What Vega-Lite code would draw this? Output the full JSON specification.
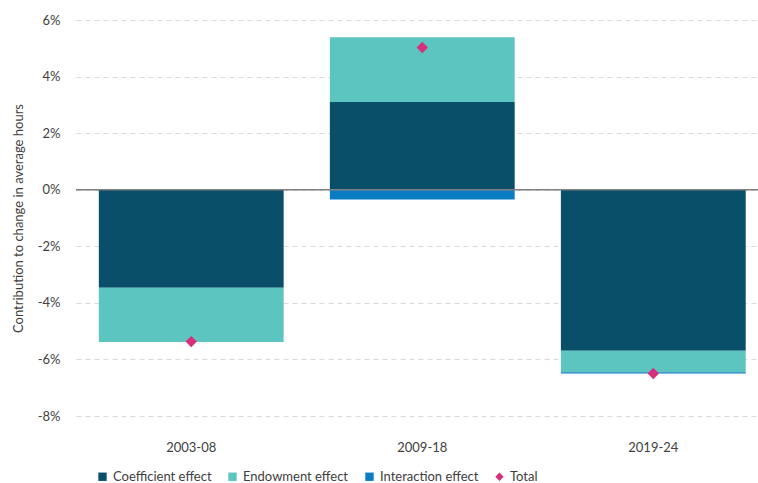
{
  "$schema": "https://vega.github.io/schema/vega-lite/v6.json",
  "width": 682,
  "height": 396,
  "autosize": {"type": "none"},
  "padding": {"left": 76, "top": 20, "right": 0, "bottom": 67},
  "background": "white",
  "config": {
    "font": "Lato",
    "view": {"stroke": null},
    "axis": {"labelFont": "Lato", "titleFont": "Lato", "labelColor": "#404040", "titleColor": "#404040"}
  },
  "datasets": {
    "bars": [
      {"period": "2003-08", "series": "Coefficient effect", "value": -3.47},
      {"period": "2003-08", "series": "Endowment effect", "value": -1.91},
      {"period": "2003-08", "series": "Interaction effect", "value": 0.0},
      {"period": "2009-18", "series": "Coefficient effect", "value": 3.1},
      {"period": "2009-18", "series": "Endowment effect", "value": 2.29},
      {"period": "2009-18", "series": "Interaction effect", "value": -0.35},
      {"period": "2019-24", "series": "Coefficient effect", "value": -5.69},
      {"period": "2019-24", "series": "Endowment effect", "value": -0.76},
      {"period": "2019-24", "series": "Interaction effect", "value": -0.05}
    ],
    "totals": [
      {"period": "2003-08", "series": "Total", "value": -5.37},
      {"period": "2009-18", "series": "Total", "value": 5.03},
      {"period": "2019-24", "series": "Total", "value": -6.5}
    ]
  },
  "layer": [
    {
      "data": {"name": "bars"},
      "mark": {"type": "bar"},
      "encoding": {
        "x": {
          "field": "period", "type": "nominal",
          "scale": {"paddingInner": 0.2, "paddingOuter": 0.076, "align": 0.65},
          "axis": {"title": null, "labelAngle": 0, "domain": false, "ticks": false, "labelFontSize": 13, "labelPadding": 25}
        },
        "y": {
          "field": "value", "type": "quantitative", "stack": "zero",
          "scale": {"domain": [-8, 6], "nice": false},
          "axis": {
            "title": "Contribution to change in average hours",
            "titleFontSize": 13, "titleFontWeight": "normal", "titlePadding": 12,
            "values": [-8, -6, -4, -2, 0, 2, 4, 6],
            "labelExpr": "datum.value + '%'",
            "labelFontSize": 13, "labelPadding": 16,
            "domain": false, "ticks": false,
            "gridColor": "#d9d9d9", "gridDash": [5, 4], "gridWidth": 1
          }
        },
        "color": {
          "field": "series", "type": "nominal",
          "scale": {
            "domain": ["Coefficient effect", "Endowment effect", "Interaction effect", "Total"],
            "range": ["#0a4f6a", "#5dc5bf", "#0a7cc4", "#d6307c"]
          },
          "legend": {
            "title": null, "orient": "none", "legendX": 20, "legendY": 450, "direction": "horizontal",
            "labelFontSize": 13, "labelColor": "#404040", "symbolSize": 70,
            "columnPadding": 14, "symbolStrokeWidth": 0
          }
        },
        "order": {"field": "series", "sort": "ascending"}
      }
    },
    {
      "data": {"values": [{"z": 0}]},
      "mark": {"type": "rule", "color": "#808080", "strokeWidth": 1.5},
      "encoding": {"y": {"field": "z", "type": "quantitative"}}
    },
    {
      "data": {"name": "totals"},
      "mark": {"type": "point", "filled": true, "size": 130, "opacity": 1},
      "encoding": {
        "x": {"field": "period", "type": "nominal"},
        "y": {"field": "value", "type": "quantitative"},
        "color": {"field": "series", "type": "nominal"},
        "shape": {
          "field": "series", "type": "nominal",
          "scale": {
            "domain": ["Coefficient effect", "Endowment effect", "Interaction effect", "Total"],
            "range": ["square", "square", "square", "diamond"]
          },
          "legend": null
        }
      }
    }
  ]
}
